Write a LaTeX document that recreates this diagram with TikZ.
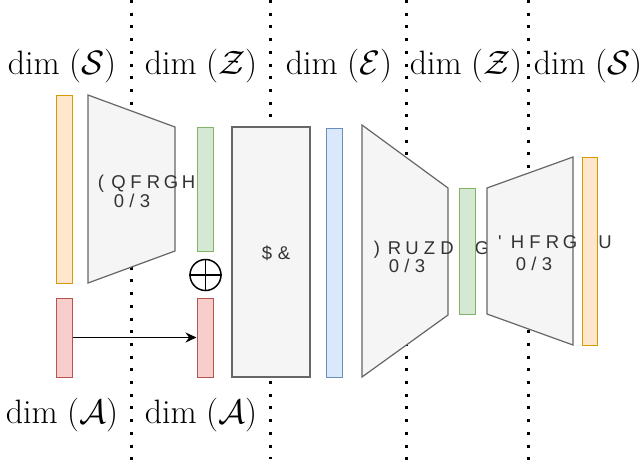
\documentclass[tikz,border=0pt]{standalone}
\usepackage{fontspec}
\newfontfamily\garbfont{Liberation Sans}
\usetikzlibrary{arrows.meta}
\definecolor{orF}{HTML}{FFE6CC}\definecolor{orD}{HTML}{D79B00}
\definecolor{reF}{HTML}{F8CECC}\definecolor{reD}{HTML}{B85450}
\definecolor{grF}{HTML}{D5E8D4}\definecolor{grD}{HTML}{82B366}
\definecolor{blF}{HTML}{DAE8FC}\definecolor{blD}{HTML}{6C8EBF}
\definecolor{gyF}{HTML}{F5F5F5}\definecolor{gyD}{HTML}{666666}
\definecolor{txG}{HTML}{333333}
\newcommand\lsp[1]{\makebox[17.5pt]{#1}}
\newcommand\dsp[1]{\makebox[13pt]{#1}}
\newcommand\dimof[1]{\scalebox{1.36}{\fontsize{24.88}{28}\selectfont$\dim\;(\mathcal{#1})$}}
\tikzset{
  bar/.style={draw, line width=1pt, inner sep=0pt, minimum width=16pt},
  orbar/.style={bar, fill=orF, draw=orD},
  rebar/.style={bar, fill=reF, draw=reD},
  grbar/.style={bar, fill=grF, draw=grD},
  blbar/.style={bar, fill=blF, draw=blD},
  block/.style={fill=gyF, draw=gyD, line width=1.2pt},
  gtext/.style={font=\garbfont\fontsize{18.5}{22}\selectfont, text=txG, inner sep=0pt, anchor=base, text height=13pt, text depth=1pt},
  dimlab/.style={inner sep=0pt, anchor=base},
  sep/.style={line width=3pt, dash pattern=on 3pt off 9.7pt},
}
\begin{document}
\begin{tikzpicture}[x=1pt,y=-1pt]
\useasboundingbox (0,0) rectangle (642,467);
% separators
\coordinate (d1t) at (131,0); \coordinate (d1b) at (131,462);
\coordinate (d2t) at (270,0); \coordinate (d2b) at (270,459);
\coordinate (d3t) at (406,0); \coordinate (d3b) at (406,467);
\coordinate (d4t) at (528,0); \coordinate (d4b) at (528,467);
\draw[sep] (d1t) -- (d1b);
\draw[sep] (d2t) -- (d2b);
\draw[sep] (d3t) -- (d3b);
\draw[sep] (d4t) -- (d4b);
% encoder
\draw[block] (88,95) -- (175,127) -- (175,251) -- (88,283) -- cycle;
\node[gtext] (encA) at (153.5,188.2) {\lsp{(}\lsp{Q}\lsp{F}\lsp{R}\lsp{G}\lsp{H}\lsp{U}};
\node[gtext] (encB) at (132,207.2) {\dsp{0}\dsp{/}\dsp{3}};
% forward
\draw[block] (362,125) -- (448,188) -- (448,315) -- (362,377) -- cycle;
\node[gtext] (fwdA) at (429.5,254.5) {\lsp{)}\lsp{R}\lsp{U}\lsp{Z}\lsp{D}\lsp{U}\lsp{G}};
\node[gtext] (fwdB) at (407,272.5) {\dsp{0}\dsp{/}\dsp{3}};
% decoder
\draw[block] (487,188) -- (573,157) -- (573,345) -- (487,314) -- cycle;
\node[gtext] (decA) at (552.5,248.2) {\lsp{'}\lsp{H}\lsp{F}\lsp{R}\lsp{G}\lsp{H}\lsp{U}};
\node[gtext] (decB) at (534,270.2) {\dsp{0}\dsp{/}\dsp{3}};
% bars
\node[orbar, minimum height=188pt] (orL) at (64,189) {};
\node[rebar, minimum height=79pt] (reL) at (64,337.5) {};
\node[grbar, minimum height=124pt] (grL) at (205,189) {};
\node[rebar, minimum height=79pt] (reR) at (205,337.5) {};
\node[block, inner sep=0pt, minimum width=78pt, minimum height=250pt] (ac) at (271,252) {};
\node[gtext] (acT) at (275.5,259.7) {\makebox[17pt]{\$}\makebox[17pt]{\&}};
\node[blbar, minimum height=249pt] (bl) at (334,252.5) {};
\node[grbar, minimum height=126pt] (grR) at (467,251) {};
\node[orbar, minimum width=15pt, minimum height=188pt] (orR) at (589.5,251) {};
% oplus
\node[circle, draw, line width=1.5pt, minimum size=31pt, inner sep=0pt] (op) at (205.5,275) {};
\draw[line width=1.5pt] (op.north) -- (op.south);
\draw[line width=1.5pt] (op.west) -- (op.east);
% arrow
\draw[line width=1pt, -{Stealth[length=11pt,width=10pt]}] (reL.east) -- (reR.west);
% labels
\node[dimlab] (l1) at (62,74) {\dimof{S}};
\node[dimlab] (l2) at (201,74) {\dimof{Z}};
\node[dimlab] (l3) at (339,74) {\dimof{E}};
\node[dimlab] (l4) at (466,74) {\dimof{Z}};
\node[dimlab] (l5) at (588,74) {\dimof{S}};
\node[dimlab] (l6) at (62,423) {\dimof{A}};
\node[dimlab] (l7) at (201,423) {\dimof{A}};
\end{tikzpicture}
\end{document}
